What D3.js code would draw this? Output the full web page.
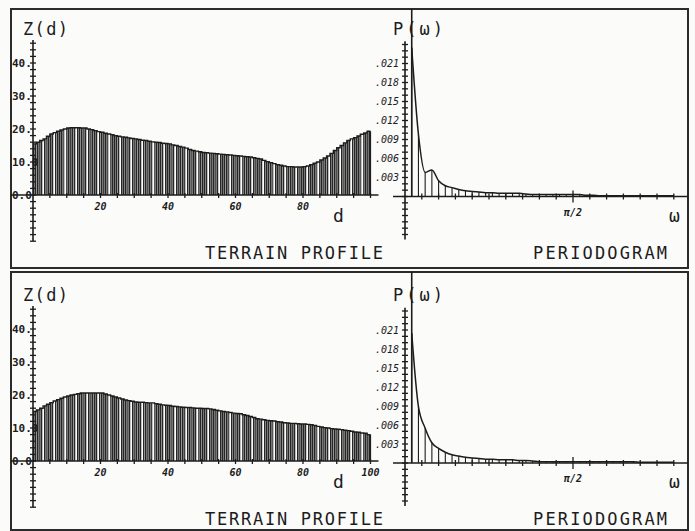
<!DOCTYPE html>
<html lang="en">
<head>
<meta charset="UTF-8">
<title>Terrain profile and periodogram</title>
<script src="https://d3js.org/d3.v7.min.js"></script>
<style>
  body { margin: 0; background: #fbfbfa; }
  svg { display: block; }
  text { font-family: "DejaVu Sans Mono", monospace; fill: #1c1c1c; }
</style>
</head>
<body>
<div id="chart"></div>
<script>
// terrain heights Z(d), d = 0..99
const terrainTop = [15.5, 16.0, 16.5, 17.0, 17.8, 18.5, 18.9, 19.3, 19.7, 20.0,
  20.3, 20.4, 20.4, 20.4, 20.3, 20.3, 20.0, 19.8, 19.5, 19.2,
  19.0, 18.7, 18.5, 18.3, 18.0, 17.8, 17.6, 17.5, 17.3, 17.1,
  17.0, 16.8, 16.6, 16.5, 16.3, 16.1, 16.0, 15.9, 15.7, 15.6,
  15.5, 15.2, 15.0, 14.7, 14.5, 14.2, 13.8, 13.5, 13.3, 13.1,
  12.9, 12.8, 12.7, 12.6, 12.5, 12.4, 12.3, 12.2, 12.1, 12.0,
  11.9, 11.8, 11.7, 11.6, 11.5, 11.3, 11.1, 10.9, 10.5, 10.1,
  9.8, 9.5, 9.2, 9.0, 8.8, 8.6, 8.6, 8.5, 8.5, 8.5,
  8.6, 8.8, 9.2, 9.6, 10.0, 10.6, 11.2, 11.8, 12.6, 13.5,
  14.3, 15.0, 15.8, 16.5, 17.0, 17.4, 17.9, 18.4, 18.8, 19.3];
const terrainBottom = [15.0, 15.5, 16.0, 16.7, 17.2, 17.7, 18.2, 18.6, 19.0, 19.4,
  19.7, 20.0, 20.2, 20.4, 20.6, 20.6, 20.6, 20.6, 20.6, 20.6,
  20.6, 20.3, 20.0, 19.7, 19.4, 19.1, 18.8, 18.5, 18.3, 18.1,
  17.9, 17.8, 17.8, 17.7, 17.6, 17.6, 17.4, 17.2, 17.0, 16.9,
  16.8, 16.6, 16.5, 16.4, 16.3, 16.2, 16.2, 16.1, 16.0, 16.0,
  15.9, 15.9, 15.8, 15.6, 15.4, 15.2, 15.0, 14.9, 14.7, 14.5,
  14.4, 14.3, 14.0, 13.8, 13.5, 13.2, 12.8, 12.7, 12.5, 12.3,
  12.2, 12.1, 11.9, 11.8, 11.6, 11.5, 11.4, 11.4, 11.3, 11.2,
  11.2, 11.1, 11.0, 10.8, 10.5, 10.3, 10.1, 10.0, 9.8, 9.7,
  9.6, 9.5, 9.3, 9.2, 9.0, 8.8, 8.7, 8.5, 8.4, 8.0];

// periodogram P(w_k), w_k = 2*pi*k/100, k = 1..40
const periodTop = [0.0235, 0.0098, 0.0038, 0.0042, 0.0025, 0.0017, 0.0014, 0.0011, 0.0009, 0.0008,
  0.0007, 0.0006, 0.0006, 0.0005, 0.0005, 0.0005, 0.0005, 0.0004, 0.0003, 0.0003,
  0.0003, 0.0003, 0.0003, 0.0003, 0.0003, 0.0003, 0.0002, 0.0002, 0.0001, 0.0001,
  0.0001, 0.0001, 0.0001, 0.0001, 0.0001, 0.0001, 0.0001, 0.0001, 0.0001, 0.0001];
const periodBottom = [0.0205, 0.0089, 0.0055, 0.0032, 0.0023, 0.0017, 0.0013, 0.0011, 0.0009, 0.0008,
  0.0007, 0.0006, 0.0006, 0.0005, 0.0005, 0.0005, 0.0004, 0.0004, 0.0003, 0.0002,
  0.0002, 0.0002, 0.0002, 0.0002, 0.0002, 0.0002, 0.0002, 0.0002, 0.0002, 0.0002,
  0.0002, 0.0002, 0.0002, 0.0002, 0.0001, 0.0001, 0.0001, 0.0001, 0.0001, 0.0001];

const zTicks = [0, 10, 20, 30, 40];
const zTickLabels = ["0.0", "10.0", "20.", "30.", "40."];
const dTicksTop = [20, 40, 60, 80];
const dTicksBottom = [20, 40, 60, 80, 100];
const pTicks = [0.003, 0.006, 0.009, 0.012, 0.015, 0.018, 0.021];
const pTickLabels = [".003", ".006", ".009", ".012", ".015", ".018", ".021"];

const width = 695, height = 531;
const ink = "#1c1c1c";

const svg = d3.select("#chart").append("svg")
  .attr("width", width)
  .attr("height", height);

// dense vertical hatching used for the terrain bars
const pat = svg.append("defs").append("pattern")
  .attr("id", "hatch")
  .attr("patternUnits", "userSpaceOnUse")
  .attr("x", 33)
  .attr("width", 11)
  .attr("height", 6);
pat.append("rect").attr("width", 11).attr("height", 6).attr("fill", "#fbfbfa");
pat.append("rect").attr("width", 9.2).attr("height", 6).attr("fill", "#8a8a8a");
[0, 2, 4, 6, 8].forEach(px => pat.append("rect")
  .attr("x", px).attr("width", 1.2).attr("height", 6).attr("fill", "#262626"));

const panels = [
  { terrain: terrainTop, period: periodTop, dTicks: dTicksTop, top: 9, bottom: 268, zBase: 195, pBase: 196.5 },
  { terrain: terrainBottom, period: periodBottom, dTicks: dTicksBottom, top: 272, bottom: 530, zBase: 461, pBase: 463 }
];

const xd = d3.scaleLinear().domain([0, 100]).range([33, 370.5]);
const xw = d3.scaleLinear().domain([0, Math.PI]).range([405, 741]);

panels.forEach(p => {
  const g = svg.append("g");
  const yz = d3.scaleLinear().domain([0, 40]).range([p.zBase, p.zBase - 132]);
  const yp = d3.scaleLinear().domain([0, 0.021]).range([p.pBase, p.pBase - 133]);

  // frame
  g.append("rect")
    .attr("x", 11).attr("y", p.top)
    .attr("width", 677).attr("height", p.bottom - p.top)
    .attr("fill", "none").attr("stroke", "#2b2b2b").attr("stroke-width", 2);

  // ---- terrain profile ----
  g.append("g").selectAll("rect")
    .data(p.terrain)
    .join("rect")
    .attr("x", (d, i) => xd(i))
    .attr("width", (d, i) => xd(i + 1) - xd(i))
    .attr("y", d => yz(d))
    .attr("height", d => p.zBase - yz(d))
    .attr("fill", "url(#hatch)");

  const stepPts = p.terrain.map((d, i) => [i, d]).concat([[100, p.terrain[p.terrain.length - 1]]]);
  g.append("path")
    .datum(stepPts)
    .attr("fill", "none").attr("stroke", ink).attr("stroke-width", 1.4)
    .attr("d", d3.line().x(d => xd(d[0])).y(d => yz(d[1])).curve(d3.curveStepAfter));
  g.append("line")
    .attr("x1", xd(100)).attr("x2", xd(100))
    .attr("y1", yz(p.terrain[p.terrain.length - 1])).attr("y2", p.zBase)
    .attr("stroke", ink).attr("stroke-width", 1.2);

  // d axis
  g.append("line")
    .attr("x1", 11).attr("x2", xd(100) + 8)
    .attr("y1", p.zBase).attr("y2", p.zBase)
    .attr("stroke", ink).attr("stroke-width", 1.6);
  g.append("g").selectAll("line")
    .data(d3.range(5, 101, 5))
    .join("line")
    .attr("x1", d => xd(d)).attr("x2", d => xd(d))
    .attr("y1", p.zBase - 2).attr("y2", p.zBase + 3)
    .attr("stroke", ink).attr("stroke-width", 1.3);
  g.append("g").selectAll("text")
    .data(p.dTicks)
    .join("text")
    .attr("x", d => xd(d)).attr("y", p.zBase + 15)
    .attr("text-anchor", "middle")
    .style("font-size", "10px").style("font-style", "italic").style("font-weight", "bold")
    .text(d => d);

  // Z axis
  g.append("line")
    .attr("x1", 33).attr("x2", 33)
    .attr("y1", yz(47)).attr("y2", yz(-14))
    .attr("stroke", ink).attr("stroke-width", 1.6);
  g.append("g").selectAll("line")
    .data(d3.range(-14, 47, 2))
    .join("line")
    .attr("x1", 30).attr("x2", 36)
    .attr("y1", d => yz(d)).attr("y2", d => yz(d))
    .attr("stroke", ink).attr("stroke-width", 1.3);
  g.append("g").selectAll("text")
    .data(zTicks)
    .join("text")
    .attr("x", 12).attr("y", d => yz(d))
    .attr("dy", "0.35em")
    .style("font-size", "11px").style("font-weight", "bold")
    .text((d, i) => zTickLabels[i]);

  g.append("text")
    .attr("x", 23).attr("y", p.zBase - 160)
    .attr("textLength", 45)
    .style("font-size", "17px")
    .text("Z(d)");
  g.append("text")
    .attr("x", 333).attr("y", p.zBase + 27)
    .style("font-size", "18px")
    .text("d");
  g.append("text")
    .attr("x", 205).attr("y", p.zBase + 64)
    .attr("textLength", 178)
    .style("font-size", "17px")
    .text("TERRAIN PROFILE");

  // ---- periodogram ----
  // off-scale leading ordinate, clipped by the frame
  g.append("line")
    .attr("x1", xw(2 * Math.PI / 100)).attr("x2", xw(2 * Math.PI / 100))
    .attr("y1", p.top).attr("y2", p.pBase)
    .attr("stroke", ink).attr("stroke-width", 1.6);

  const pts = p.period.map((v, k) => [2 * Math.PI * (k + 1) / 100, v]);
  g.append("g").selectAll("line")
    .data(pts)
    .join("line")
    .attr("x1", d => xw(d[0])).attr("x2", d => xw(d[0]))
    .attr("y1", d => yp(d[1])).attr("y2", p.pBase)
    .attr("stroke", ink).attr("stroke-width", 1.1);
  g.append("path")
    .datum(pts)
    .attr("fill", "none").attr("stroke", ink).attr("stroke-width", 1.5)
    .attr("d", d3.line().x(d => xw(d[0])).y(d => yp(d[1])).curve(d3.curveMonotoneX));

  // w axis
  g.append("line")
    .attr("x1", 393).attr("x2", 688)
    .attr("y1", p.pBase).attr("y2", p.pBase)
    .attr("stroke", ink).attr("stroke-width", 1.6);
  g.append("g").selectAll("line")
    .data(d3.range(1, 17))
    .join("line")
    .attr("x1", j => xw(j * Math.PI / 20)).attr("x2", j => xw(j * Math.PI / 20))
    .attr("y1", j => p.pBase - (j === 10 ? 6 : 3)).attr("y2", j => p.pBase + (j === 10 ? 6 : 3))
    .attr("stroke", ink).attr("stroke-width", 1.3);
  g.append("text")
    .attr("x", xw(Math.PI / 2)).attr("y", p.pBase + 19)
    .attr("text-anchor", "middle")
    .style("font-size", "10px").style("font-style", "italic").style("font-weight", "bold")
    .text("π/2");
  g.append("text")
    .attr("x", 669).attr("y", p.pBase + 25)
    .style("font-size", "18px")
    .text("ω");

  // P axis
  g.append("line")
    .attr("x1", 405).attr("x2", 405)
    .attr("y1", yp(0.0245)).attr("y2", yp(-0.0068))
    .attr("stroke", ink).attr("stroke-width", 1.6);
  g.append("g").selectAll("line")
    .data(d3.range(-6, 25).map(i => i / 1000))
    .join("line")
    .attr("x1", 402).attr("x2", 408)
    .attr("y1", d => yp(d)).attr("y2", d => yp(d))
    .attr("stroke", ink).attr("stroke-width", 1.3);
  g.append("g").selectAll("text")
    .data(pTicks)
    .join("text")
    .attr("x", 399).attr("y", d => yp(d))
    .attr("dy", "0.35em")
    .attr("text-anchor", "end")
    .style("font-size", "10px").style("font-style", "italic")
    .text((d, i) => pTickLabels[i]);

  g.append("text")
    .attr("x", 393).attr("y", p.zBase - 160)
    .attr("textLength", 50)
    .style("font-size", "17px")
    .text("P(ω)");
  g.append("text")
    .attr("x", 533).attr("y", p.zBase + 64)
    .attr("textLength", 134)
    .style("font-size", "17px")
    .text("PERIODOGRAM");
});
</script>
</body>
</html>
